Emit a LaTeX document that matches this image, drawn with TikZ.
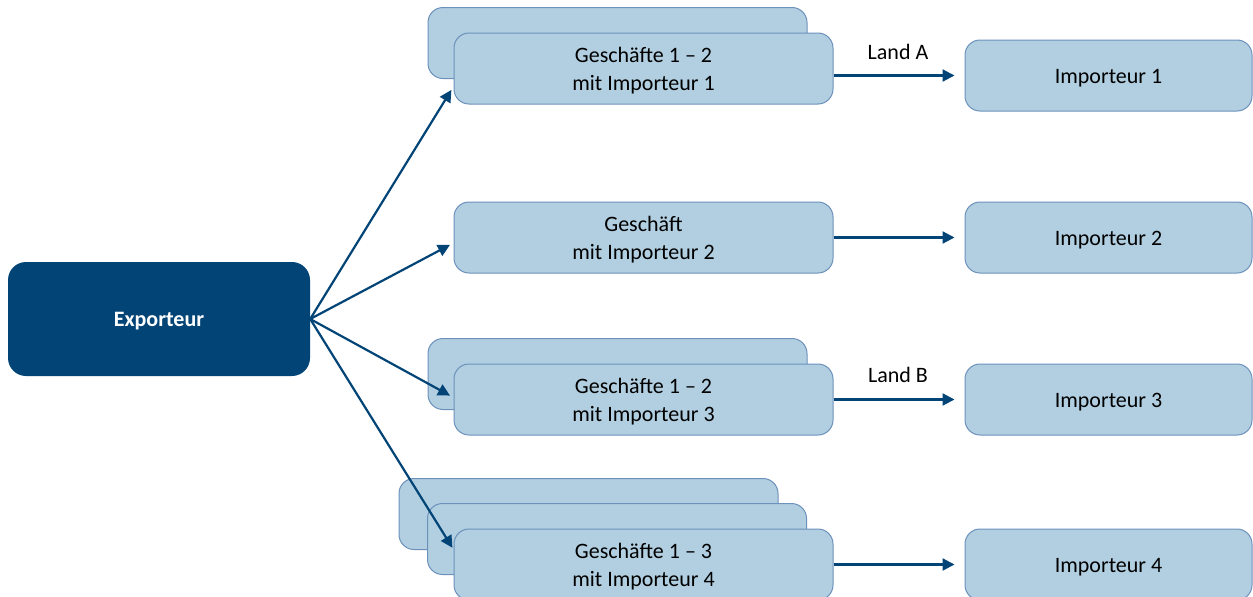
\documentclass[tikz,border=0pt]{standalone}
\usepackage{fontspec}
\setmainfont{Carlito}
\usetikzlibrary{arrows.meta,calc}
\definecolor{dblue}{RGB}{2,68,118}
\definecolor{lblue}{RGB}{177,207,225}
\definecolor{lborder}{RGB}{108,145,187}
\newcommand\lowtxt[1]{\raisebox{-2.5pt}[\height][\depth]{#1}}
\newcommand\twoline[2]{\lowtxt{\begin{tabular}{@{}c@{}}#1\\#2\end{tabular}}}
\tikzset{
  every node/.style={font=\fontsize{22}{28}\selectfont},
  lbox/.style={draw=lborder, line width=1pt, fill=lblue, rounded corners=15pt,
    minimum width=379pt, minimum height=71pt, inner sep=0pt, text=black},
  ibox/.style={lbox, minimum width=287pt},
  ebox/.style={fill=dblue, rounded corners=18pt, minimum width=302pt, minimum height=114pt,
    inner sep=0pt, text=white, font=\fontsize{22}{28}\selectfont\bfseries},
  arr/.style={draw=dblue, line width=2.2pt, -{Triangle[length=12pt,width=12pt]}},
  lbl/.style={text=black}
}
\begin{document}
\begin{tikzpicture}[x=1pt,y=-1pt]
\useasboundingbox (0,0) rectangle (1253,597);
\node[ebox] (exp) at (159,319) {\lowtxt{Exporteur}};
% row 1
\node[lbox] (g1b) at (617.5,43) {};
\node[lbox] (g1) at (643.5,68.5) {\twoline{Geschäfte 1 – 2}{mit Importeur 1}};
\node[ibox] (i1) at (1108.5,75.5) {\lowtxt{Importeur 1}};
% row 2
\node[lbox] (g2) at (643.5,237.5) {\twoline{Geschäft}{mit Importeur 2}};
\node[ibox] (i2) at (1108.5,237.5) {\lowtxt{Importeur 2}};
% row 3
\node[lbox] (g3b) at (617.5,374) {};
\node[lbox] (g3) at (643.5,399.5) {\twoline{Geschäfte 1 – 2}{mit Importeur 3}};
\node[ibox] (i3) at (1108.5,399.5) {\lowtxt{Importeur 3}};
% row 4
\node[lbox] (g4c) at (588.5,514) {};
\node[lbox] (g4b) at (617,539) {};
\node[lbox] (g4) at (643.5,564.5) {\twoline{Geschäfte 1 – 3}{mit Importeur 4}};
\node[ibox] (i4) at (1108.5,564.5) {\lowtxt{Importeur 4}};
% labels
\node[lbl] (la) at (898,52) {Land A};
\node[lbl] (lb) at (898,375) {Land B};
% diagonal arrows
\coordinate (t1) at ($(g1.west)+(0,18)$);
\coordinate (t2) at ($(g2.west)+(0,5.5)$);
\coordinate (t3) at ($(g3.west)+(0,-2)$);
\coordinate (t4) at ($(g4.west)+(0,-15)$);
\draw[arr, shorten >=4pt] (exp.east) -- (t1);
\draw[arr, shorten >=4pt] (exp.east) -- (t2);
\draw[arr, shorten >=4pt] (exp.east) -- (t3);
\draw[arr, shorten >=2pt] (exp.east) -- (t4);
% horizontal arrows
\draw[arr, shorten >=10pt] (g1.east |- i1.west) -- (i1.west);
\draw[arr, shorten >=10pt] (g2.east |- i2.west) -- (i2.west);
\draw[arr, shorten >=10pt] (g3.east |- i3.west) -- (i3.west);
\draw[arr, shorten >=10pt] (g4.east |- i4.west) -- (i4.west);
\end{tikzpicture}
\end{document}
